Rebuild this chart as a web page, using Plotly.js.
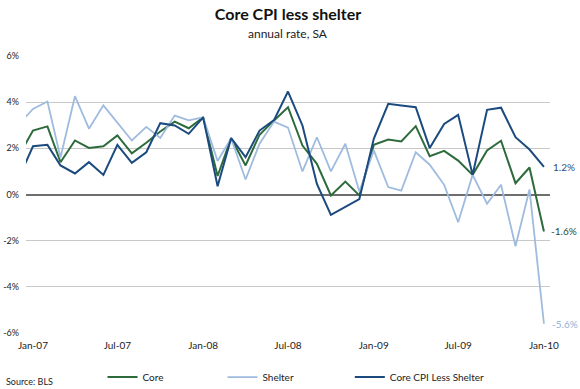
<!DOCTYPE html>
<html>
<head>
<meta charset="utf-8">
<script src="https://cdn.plot.ly/plotly-3.0.1.min.js"></script>
<style>html,body{margin:0;padding:0;background:#fff;}#chart{width:580px;height:389px;}</style>
</head>
<body>
<div id="chart"></div>
<script>
// Monthly dates, Dec-06 through Jan-10
const months = [
 "2006-12-01",
 "2007-01-01","2007-02-01","2007-03-01","2007-04-01","2007-05-01","2007-06-01",
 "2007-07-01","2007-08-01","2007-09-01","2007-10-01","2007-11-01","2007-12-01",
 "2008-01-01","2008-02-01","2008-03-01","2008-04-01","2008-05-01","2008-06-01",
 "2008-07-01","2008-08-01","2008-09-01","2008-10-01","2008-11-01","2008-12-01",
 "2009-01-01","2009-02-01","2009-03-01","2009-04-01","2009-05-01","2009-06-01",
 "2009-07-01","2009-08-01","2009-09-01","2009-10-01","2009-11-01","2009-12-01",
 "2010-01-01"
];
const core = [1.65,
 2.77,2.95,1.40,2.34,2.02,2.09,2.56,1.78,2.24,2.73,3.16,2.87,
 3.34,0.80,2.44,1.26,2.59,3.21,3.78,2.12,1.33,-0.04,0.56,-0.04,
 2.15,2.38,2.30,2.96,1.66,1.89,1.47,0.85,1.91,2.33,0.49,1.17,
 -1.6];
const shelter = [3.03,
 3.71,4.03,1.60,4.26,2.85,3.86,3.11,2.34,2.93,2.45,3.42,3.21,
 3.34,1.45,2.44,0.65,2.20,3.16,2.90,1.00,2.48,1.00,2.20,0.13,
 1.91,0.32,0.17,1.83,1.29,0.42,-1.20,0.85,-0.40,0.42,-2.24,0.22,
 -5.6];
const coreLessShelter = [0.69,
 2.09,2.15,1.26,0.91,1.40,0.85,2.15,1.37,1.83,3.09,2.99,2.63,
 3.34,0.36,2.44,1.62,2.77,3.22,4.46,2.99,0.46,-0.88,-0.55,-0.20,
 2.41,3.93,3.86,3.78,2.01,3.06,3.45,0.85,3.67,3.76,2.48,1.95,
 1.2];
const tickDates = ["2007-01-01","2007-07-01","2008-01-01","2008-07-01","2009-01-01","2009-07-01","2010-01-01"];
const tickLabels = ["Jan-07","Jul-07","Jan-08","Jul-08","Jan-09","Jul-09","Jan-10"];
const yTicks = [-6,-4,-2,0,2,4,6];
const yTickLabels = ["-6%","-4%","-2%","0%","2%","4%","6%"];
const endLabels = ["-1.6%","-5.6%","1.2%"];

const FONT = "Lato, 'DejaVu Sans', sans-serif";
const cCore = "#2e6b3c", cShelter = "#9fbbde", cLess = "#1b4a7e";

const traces = [
  {x: months, y: core, name: "Core", type: "scatter", mode: "lines", legend: "legend",
   line: {color: cCore, width: 2}},
  {x: months, y: shelter, name: "Shelter", type: "scatter", mode: "lines", legend: "legend2",
   line: {color: cShelter, width: 1.8}},
  {x: months, y: coreLessShelter, name: "Core CPI Less Shelter", type: "scatter", mode: "lines", legend: "legend3",
   line: {color: cLess, width: 2}}
];

function leg(x) {
  return {orientation: "h", x: x, xanchor: "left", y: 0.068, yref: "container", yanchor: "top",
          font: {size: 10, color: "#222"}, itemwidth: 30, bgcolor: "rgba(0,0,0,0)"};
}

const last = months.length - 1;
const layout = {
  width: 580, height: 389,
  margin: {l: 26, r: 30, t: 56, b: 56, pad: 0, autoexpand: false},
  paper_bgcolor: "#fff", plot_bgcolor: "#fff",
  font: {family: FONT, size: 10, color: "#222"},
  title: {text: "<b>Core CPI less shelter</b>", font: {family: FONT, size: 16, color: "#111"},
          x: 0.5, xanchor: "center", y: 0.962, yanchor: "middle", xref: "paper"},
  xaxis: {type: "date", range: ["2006-12-17", "2010-01-14"],
          tickvals: tickDates, ticktext: tickLabels, showgrid: false, zeroline: false,
          showline: false, ticks: "", tickfont: {size: 10, color: "#222"}, ticklabelstandoff: 5},
  yaxis: {range: [-6, 6], tickvals: yTicks, ticktext: yTickLabels,
          showgrid: true, gridcolor: "#c8c8c8", gridwidth: 1,
          zeroline: true, zerolinecolor: "#6e6e6e", zerolinewidth: 2,
          showline: false, ticks: "", tickfont: {size: 9, color: "#222"}, ticklabelstandoff: 6},
  showlegend: true,
  legend: leg(0.146),
  legend2: leg(0.375),
  legend3: leg(0.618),
  annotations: [
    {text: "annual rate, SA", xref: "paper", yref: "paper", x: 0.5, y: 1.083,
     xanchor: "center", yanchor: "middle", showarrow: false, font: {size: 12, color: "#222"}},
    {text: "Source: BLS", xref: "paper", yref: "paper", x: -0.042, y: -0.175,
     xanchor: "left", yanchor: "middle", showarrow: false, font: {size: 9, color: "#222"}},
    {text: endLabels[0], x: months[last], y: core[last], xanchor: "left", yanchor: "middle",
     xshift: 5, showarrow: false, font: {size: 10, color: "#2a4a30"}},
    {text: endLabels[1], x: months[last], y: shelter[last], xanchor: "left", yanchor: "middle",
     xshift: 6, showarrow: false, font: {size: 10, color: "#8fb0d8"}},
    {text: endLabels[2], x: months[last], y: coreLessShelter[last], xanchor: "left", yanchor: "middle",
     xshift: 7, showarrow: false, font: {size: 10, color: "#2f4f78"}}
  ]
};

Plotly.newPlot("chart", traces, layout, {displayModeBar: false, staticPlot: true});
</script>
</body>
</html>
